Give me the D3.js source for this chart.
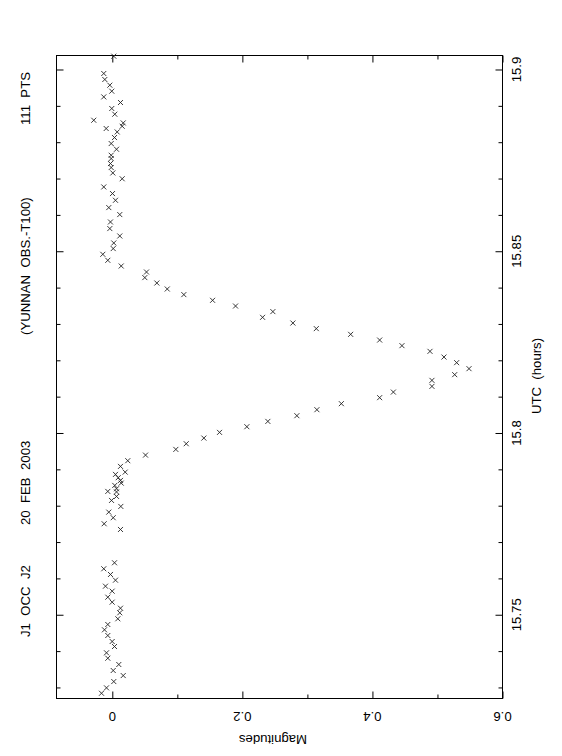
<!DOCTYPE html>
<html><head><meta charset="utf-8">
<script src="https://cdn.jsdelivr.net/npm/d3@7"></script>
<style>body{margin:0;background:#fff}svg{display:block}text{font-family:"Liberation Sans",Arial,Helvetica,sans-serif;fill:#000}</style>
</head><body><svg id="c" width="562" height="756"></svg>
<script>
// UTC hours of each observation
const utc = [15.90366,15.89890,15.89725,15.89568,15.89403,15.89246,15.89092,15.88927,15.88770,15.88604,
15.88530,15.88439,15.88376,15.88282,15.88128,15.87963,15.87806,15.87641,15.87550,15.87413,
15.87303,15.87154,15.86994,15.86769,15.86587,15.86402,15.86201,15.86009,15.85805,15.85624,
15.85420,15.85227,15.85073,15.84916,15.84751,15.84594,15.84429,15.84275,15.84126,15.83961,
15.83807,15.83650,15.83493,15.83339,15.83182,15.83025,15.82871,15.82714,15.82557,15.82403,
15.82246,15.82089,15.81935,15.81770,15.81605,15.81448,15.81283,15.81126,15.80972,15.80807,
15.80641,15.80476,15.80319,15.80173,15.80017,15.79860,15.79705,15.79549,15.79392,15.79238,
15.79081,15.78924,15.78861,15.78770,15.78695,15.78621,15.78558,15.78467,15.78393,15.78379,
15.78255,15.78145,15.77980,15.77823,15.77669,15.77503,15.77346,15.76430,15.76265,15.76108,
15.75951,15.75786,15.75649,15.75483,15.75346,15.75180,15.75054,15.74889,15.74732,15.74586,
15.74429,15.74264,15.74126,15.73953,15.73804,15.73631,15.73466,15.73327,15.73162,15.72989,15.72840];
// Magnitude difference
const mag = [0.0023,-0.0131,-0.0115,-0.0038,-0.0008,-0.0131,0.0126,-0.0008,0.0038,-0.0285,
0.0168,0.0152,-0.0094,0.0075,0.0034,-0.0017,0.0065,-0.0017,-0.0017,-0.0028,
-0.0017,0.0008,0.0152,-0.0131,0.0003,0.0049,-0.0054,0.0115,-0.0028,-0.0038,
0.0115,0.0023,0.0014,-0.0146,-0.0069,0.0137,0.0526,0.0500,0.0685,0.0845,
0.1100,0.1542,0.1895,0.2469,0.2311,0.2777,0.3137,0.3665,0.4111,0.4454,
0.4885,0.5100,0.5295,0.5485,0.5265,0.4915,0.4915,0.4322,0.4111,0.3522,
0.3146,0.2838,0.2392,0.2069,0.1649,0.1408,0.1137,0.0977,0.0511,0.0238,
0.0126,0.0198,0.0049,0.0091,0.0126,0.0137,0.0038,0.0065,-0.0069,0.0065,
0.0065,-0.0012,0.0131,-0.0054,0.0014,-0.0125,0.0126,0.0034,-0.0131,-0.0028,
0.0049,-0.0105,-0.0002,-0.0069,-0.0002,0.0126,0.0115,0.0085,-0.0069,-0.0120,
-0.0069,-0.0002,0.0034,-0.0089,-0.0069,0.0100,0.0014,0.0168,0.0023,-0.0089,-0.0166];

const magDomain = [-0.0858, 0.6];
const utcDomain = [15.72696, 15.90385];
const magTicks = [0, 0.2, 0.4, 0.6];
const magTickLabels = ["0", "0.2", "0.4", "0.6"];
const magMinor = [0.1, 0.3, 0.5];
const utcTicks = [15.75, 15.8, 15.85, 15.9];
const utcTickLabels = ["15.75", "15.8", "15.85", "15.9"];
const utcMinor = [15.73,15.74,15.76,15.77,15.78,15.79,15.81,15.82,15.83,15.84,15.86,15.87,15.88,15.89];
const titleParts = ["J1  OCC  J2", "20  FEB  2003", "(YUNNAN  OBS.-T100)", "111  PTS"];
const titleAt = [637, 525, 335, 125];

const svg = d3.select("#c");
const L = 56.5, R = 502.5, T = 55.5, B = 698.5;
const x = d3.scaleLinear().domain(magDomain).range([L, R]);
const y = d3.scaleLinear().domain(utcDomain).range([B, T]);

const g = svg.append("g");
function ax(axis, tx, ty, vals, size){
  const a = g.append("g").attr("transform", `translate(${tx},${ty})`)
    .call(axis.tickValues(vals).tickSizeInner(size).tickSizeOuter(0).tickFormat(""));
  a.select(".domain").remove();
  a.selectAll("line").attr("stroke", "#000").attr("stroke-width", 1);
}
ax(d3.axisLeft(y), R, 0, utcTicks, 7);
ax(d3.axisLeft(y), R, 0, utcMinor, 4);
ax(d3.axisRight(y), L, 0, utcTicks, 7);
ax(d3.axisRight(y), L, 0, utcMinor, 4);
ax(d3.axisTop(x), 0, B, magTicks, 7);
ax(d3.axisTop(x), 0, B, magMinor, 4);
ax(d3.axisBottom(x), 0, T, magTicks, 7);
ax(d3.axisBottom(x), 0, T, magMinor, 4);

g.append("rect").attr("x", L).attr("y", T).attr("width", R - L).attr("height", B - T)
  .attr("fill", "none").attr("stroke", "#000").attr("stroke-width", 1);

const s = 2.5;
const pts = g.append("g").attr("stroke", "#222").attr("stroke-width", 0.9);
utc.forEach((t, i) => {
  const px = x(mag[i]), py = y(t);
  pts.append("path").attr("d", `M${px-s},${py-s}L${px+s},${py+s}M${px-s},${py+s}L${px+s},${py-s}`);
});

const fs = 13.2;
utcTicks.forEach((v, i) => {
  svg.append("text").attr("transform", `translate(521,${y(v)}) rotate(-90)`)
    .attr("text-anchor", "middle").attr("font-size", fs).text(utcTickLabels[i]);
});
svg.append("text").attr("transform", `translate(541,376) rotate(-90)`)
  .attr("text-anchor", "middle").attr("font-size", fs).attr("xml:space", "preserve").text("UTC  (hours)");
magTicks.forEach((v, i) => {
  svg.append("text").attr("transform", `translate(${x(v)},712) rotate(180)`)
    .attr("text-anchor", "middle").attr("font-size", fs).text(magTickLabels[i]);
});
svg.append("text").attr("transform", `translate(273,735) rotate(180)`)
  .attr("text-anchor", "middle").attr("font-size", fs).text("Magnitudes");
titleParts.forEach((t, i) => {
  svg.append("text").attr("transform", `translate(30,${titleAt[i]}) rotate(-90)`)
    .attr("text-anchor", "start").attr("font-size", fs).attr("xml:space", "preserve").text(t);
});
</script></body></html>
